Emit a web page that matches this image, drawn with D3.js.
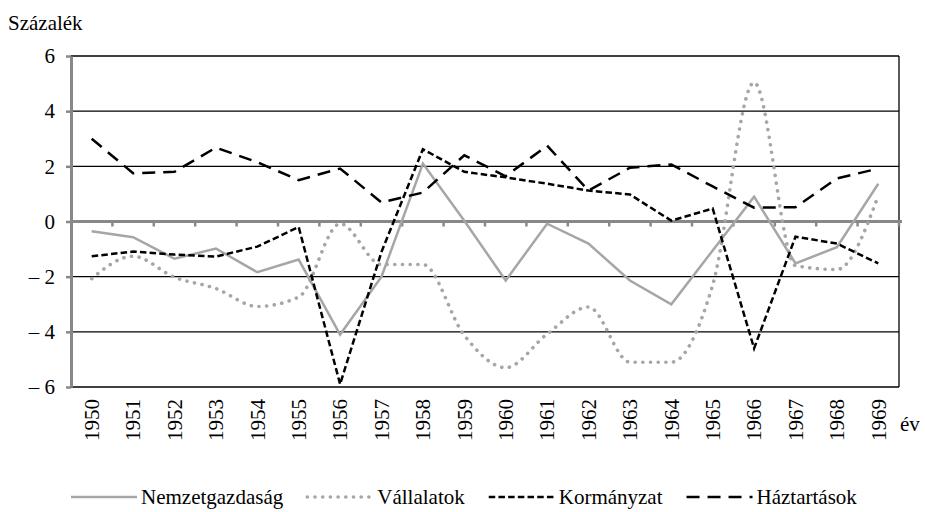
<!DOCTYPE html>
<html>
<head>
<meta charset="utf-8">
<script src="https://cdn.jsdelivr.net/npm/d3@7"></script>
<style>
	body { margin: 0; background: #fff; }
</style>
</head>
<body>
<svg id="chart"></svg>
<script>
/* jshint esversion: 6 */

// Data
const years = ["1950", "1951", "1952", "1953", "1954", "1955", "1956", "1957", "1958", "1959",
	"1960", "1961", "1962", "1963", "1964", "1965", "1966", "1967", "1968", "1969"];

const nemzetgazdasag = [-0.35, -0.57, -1.35, -0.98, -1.84, -1.38, -4.1, -2.0, 2.1, 0.03,
	-2.14, -0.08, -0.8, -2.14, -3.0, -1.05, 0.9, -1.52, -0.93, 1.37];

const vallalatok = [-2.07, -1.26, -2.02, -2.43, -3.08, -2.74, -0.08, -1.56, -1.56, -4.13,
	-5.3, -4.08, -3.1, -5.1, -5.1, -2.3, 5.04, -1.6, -1.74, 0.94];

const kormanyzat = [-1.26, -1.09, -1.2, -1.27, -0.91, -0.2, -5.9, -1.1, 2.62, 1.8,
	1.6, 1.37, 1.12, 0.98, 0.03, 0.47, -4.6, -0.55, -0.8, -1.52];

const haztartasok = [3.0, 1.75, 1.8, 2.68, 2.15, 1.5, 1.92, 0.69, 1.05, 2.4,
	1.64, 2.75, 1.12, 1.95, 2.07, 1.27, 0.5, 0.52, 1.56, 1.92];

const seriesNames = ["Nemzetgazdaság", "Vállalatok", "Kormányzat", "Háztartások"];
const yTicks = [-6, -4, -2, 0, 2, 4, 6];

///////////////////////////////////////////////////////////////////
// Layout
const width = 925;
const height = 512;
const plot = {left: 71, right: 899, top: 56, bottom: 387};
const serif = "Liberation Serif, Times New Roman, Times, DejaVu Serif, serif";

const styles = {
	"Nemzetgazdaság": {stroke: "#a6a6a6", width: 2.5, dash: null, cap: "butt", curve: d3.curveLinear},
	"Vállalatok": {stroke: "#a6a6a6", width: 3.6, dash: "0.1 7.6", cap: "round", curve: d3.curveMonotoneX},
	"Kormányzat": {stroke: "#000", width: 2.5, dash: "6.5 3.2", cap: "butt", curve: d3.curveLinear},
	"Háztartások": {stroke: "#000", width: 2.5, dash: "13 8", cap: "butt", curve: d3.curveLinear}
};

const series = [
	{name: seriesNames[0], values: nemzetgazdasag},
	{name: seriesNames[1], values: vallalatok},
	{name: seriesNames[2], values: kormanyzat},
	{name: seriesNames[3], values: haztartasok}
];

const svg = d3.select("#chart")
		.attr("width", width)
		.attr("height", height);

// Scales
const x = d3.scaleBand()
		.domain(years)
		.range([plot.left, plot.right]);

const y = d3.scaleLinear()
		.domain([-6, 6])
		.range([plot.bottom, plot.top]);

const fmt = v => v < 0 ? "\u2013 " + Math.abs(v) : String(v);

function label(sel, size) {
	return sel.style("font-family", serif).style("font-size", (size || 20) + "px").style("fill", "#000");
}

///////////////////////////////////////////////////////////////////
// Grid lines
svg.append("g")
	.selectAll("line")
	.data(yTicks.filter(d => d !== 0))
	.enter().append("line")
		.attr("x1", plot.left)
		.attr("x2", plot.right)
		.attr("y1", d => y(d))
		.attr("y2", d => y(d))
		.style("stroke", "#000")
		.style("stroke-width", 1.3);

// right border
svg.append("line")
		.attr("x1", plot.right)
		.attr("x2", plot.right)
		.attr("y1", y(6))
		.attr("y2", y(-6))
		.style("stroke", "#000")
		.style("stroke-width", 1.3);

// Y axis
const yAxis = svg.append("g")
		.attr("transform", `translate(${plot.left}, 0)`)
		.call(d3.axisLeft(y).tickValues(yTicks).tickSize(5).tickSizeOuter(0).tickPadding(11).tickFormat(fmt));

yAxis.select(".domain").style("stroke", "#888").style("stroke-width", 3);
yAxis.selectAll(".tick line").style("stroke", "#888").style("stroke-width", 2.5);
yAxis.selectAll(".tick text").call(label, 21);

// Zero line with category ticks
const zeroAxis = svg.append("g")
		.attr("transform", `translate(0, ${y(0)})`);

zeroAxis.append("line")
		.attr("x1", plot.left)
		.attr("x2", plot.right + 3)
		.style("stroke", "#888")
		.style("stroke-width", 3);

zeroAxis.selectAll(".cat-tick")
	.data(years.slice(1).concat(["end"]))
	.enter().append("line")
		.attr("class", "cat-tick")
		.attr("x1", d => d === "end" ? plot.right : x(d))
		.attr("x2", d => d === "end" ? plot.right : x(d))
		.attr("y1", 0)
		.attr("y2", 5)
		.style("stroke", "#888")
		.style("stroke-width", 2.5);

// Year labels
svg.append("g")
	.selectAll("text")
	.data(years)
	.enter().append("text")
		.attr("transform", d => `translate(${x(d) + x.bandwidth() / 2}, 399) rotate(-90)`)
		.attr("text-anchor", "end")
		.attr("dy", "0.35em")
		.call(label, 21)
		.text(d => d);

svg.append("text")
		.attr("x", 900)
		.attr("y", 431)
		.call(label, 21)
		.text("év");

svg.append("text")
		.attr("x", 8)
		.attr("y", 30)
		.call(label, 21)
		.text("Százalék");

///////////////////////////////////////////////////////////////////
// Lines
const lineGen = d3.line()
		.x((d, i) => x(years[i]) + x.bandwidth() / 2)
		.y(d => y(d));

svg.append("g")
	.selectAll("path")
	.data(series)
	.enter().append("path")
		.attr("d", d => lineGen.curve(styles[d.name].curve)(d.values))
		.style("fill", "none")
		.style("stroke", d => styles[d.name].stroke)
		.style("stroke-width", d => styles[d.name].width)
		.style("stroke-dasharray", d => styles[d.name].dash)
		.style("stroke-linecap", d => styles[d.name].cap)
		.style("stroke-linejoin", "miter");

///////////////////////////////////////////////////////////////////
// Legend
const legend = svg.append("g")
		.attr("transform", "translate(0, 497)");

let lx = 71;
seriesNames.forEach(name => {
	const s = styles[name];
	legend.append("line")
			.attr("x1", lx)
			.attr("x2", lx + 66)
			.style("stroke", s.stroke)
			.style("stroke-width", s.width)
			.style("stroke-dasharray", s.dash)
			.style("stroke-linecap", s.cap);
	const t = legend.append("text")
			.attr("x", lx + 70)
			.attr("dy", "0.35em")
			.call(label, 21)
			.text(name);
	lx += 70 + t.node().getComputedTextLength() + 24;
});
</script>
</body>
</html>
